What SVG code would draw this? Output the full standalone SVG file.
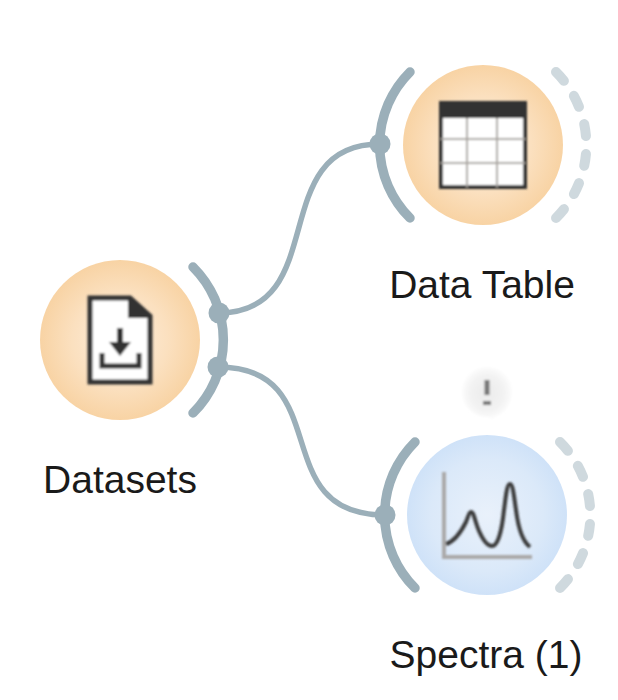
<svg xmlns="http://www.w3.org/2000/svg" width="618" height="700" viewBox="0 0 618 700">
<style>
.arc{fill:none;stroke:#9bafb9;stroke-width:9.5;stroke-linecap:round}
.dash{fill:none;stroke:#cfd9de;stroke-width:10;stroke-linecap:round;stroke-dasharray:12 18}
.link{fill:none;stroke:#9bafb9;stroke-width:5.5}
.dot{fill:#9bafb9}
.label{font-family:"Liberation Sans",Arial,sans-serif;font-size:39px;fill:#1a1a1a;text-anchor:middle}
.ink{fill:none;stroke:#333;stroke-linejoin:miter}
</style>
<defs>
<radialGradient id="orange"><stop offset="0" stop-color="#fdeedd"/><stop offset="0.6" stop-color="#fbe0bf"/><stop offset="1" stop-color="#f8d3a4"/></radialGradient>
<radialGradient id="blue"><stop offset="0" stop-color="#e9f1fb"/><stop offset="0.7" stop-color="#dbe9f9"/><stop offset="1" stop-color="#cfe2f8"/></radialGradient>
<radialGradient id="bubble"><stop offset="0" stop-color="#ebebeb"/><stop offset="0.7" stop-color="#f3f3f3"/><stop offset="1" stop-color="#fcfcfc"/></radialGradient>
<filter id="soft" x="-10%" y="-10%" width="120%" height="120%"><feGaussianBlur stdDeviation="0.8"/></filter>
</defs>
<rect width="618" height="700" fill="#fff"/>
<g id="connectors">
<path class="link" d="M218 313C333 313 264 144 380 144"/>
<path class="link" d="M218 367C338 367 264 515 385 515"/>
</g>
<g id="datasets">
<circle cx="120" cy="340" r="80" fill="url(#orange)"/>
<path class="arc" d="M193 267A103 103 0 0 1 193 413"/>
<circle class="dot" cx="219" cy="313" r="10.5"/>
<circle class="dot" cx="218" cy="367" r="10.5"/>
<g filter="url(#soft)">
<path d="M90 298H130L150 316V382H90Z" fill="#fff" stroke="#333" stroke-width="5"/>
<path d="M128 296L152 317V318H128Z" fill="#333"/>
<path class="ink" stroke-width="5" d="M102 353V366H139V353"/>
<path d="M117 328H123V342H131L120 356L109 342H117Z" fill="#333"/>
</g>
<text class="label" x="120" y="493">Datasets</text>
</g>
<g id="data-table">
<circle cx="483" cy="145" r="80" fill="url(#orange)"/>
<path class="arc" d="M410 72A103 103 0 0 0 410 218"/>
<path class="dash" d="M556 72A103 103 0 0 1 556 218"/>
<circle class="dot" cx="380" cy="144" r="10.5"/>
<g filter="url(#soft)">
<rect x="441" y="103" width="84" height="84" fill="#fff" stroke="#333" stroke-width="4"/>
<rect x="439" y="101" width="88" height="17" fill="#333"/>
<path d="M467 118V187M497 118V187M441 139H525M441 163H525" fill="none" stroke="#a9a5a0" stroke-width="2"/>
</g>
<text class="label" x="482" y="298">Data Table</text>
</g>
<g id="spectra">
<g filter="url(#soft)">
<path d="M487 367C501 367 512 378 512 392C512 405 503 414 497 416L493 419L488 417C473 417 462 406 462 392C462 378 473 367 487 367Z" fill="url(#bubble)"/>
<path d="M487 380V395" stroke="#777" stroke-width="5" fill="none"/>
<path d="M483 403H491" stroke="#777" stroke-width="4" fill="none"/>
</g>
<circle cx="487" cy="515" r="80" fill="url(#blue)"/>
<path class="arc" d="M415 442A103 103 0 0 0 415 588"/>
<path class="dash" d="M560 442A103 103 0 0 1 560 588"/>
<circle class="dot" cx="385" cy="515" r="10.5"/>
<g filter="url(#soft)">
<path d="M444 472V557H532" fill="none" stroke="#aaa9a8" stroke-width="4"/>
<path d="M446 544C456 541 462 530 466 522C468 517 469 512 471 512C474 512 475 522 479 531C483 540 487 546 492 546C498 546 502 530 504 510C506 495 507 484 510 484C513 484 514 497 516 510C518 526 522 541 530 547" fill="none" stroke="#3a3a3a" stroke-width="4"/>
</g>
<text class="label" x="486" y="668">Spectra (1)</text>
</g>
</svg>
